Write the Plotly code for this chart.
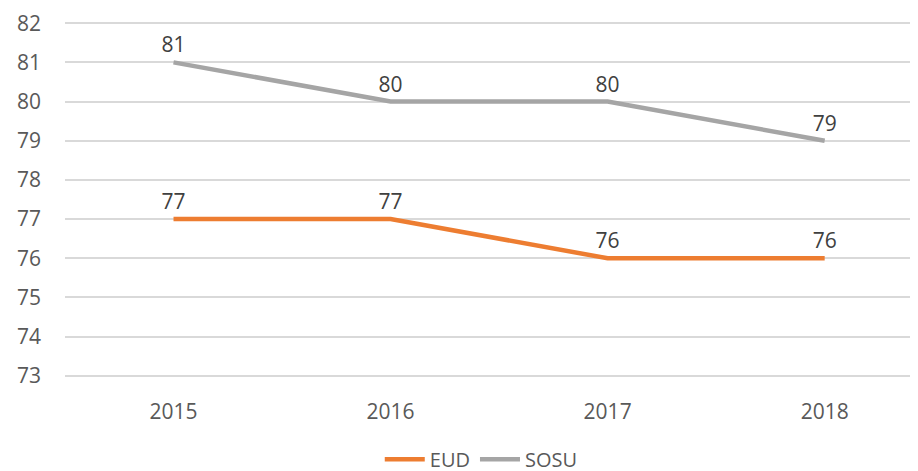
import plotly.graph_objects as go

years = ["2015", "2016", "2017", "2018"]
eud = [77, 77, 76, 76]
sosu = [81, 80, 80, 79]
y_ticks = [73, 74, 75, 76, 77, 78, 79, 80, 81, 82]

font_color = "#595959"
font_family = "Open Sans, Liberation Sans, sans-serif"

def series(name, values, color):
    return go.Scatter(
        x=years, y=values, name=name, mode="lines+markers+text",
        line=dict(color=color, width=4.5),
        marker=dict(size=6, color="rgba(0,0,0,0)"),
        text=[str(v) for v in values], textposition="top center",
        textfont=dict(size=21, color="#404040", family=font_family),
        cliponaxis=False,
    )

fig = go.Figure()
fig.add_trace(series("EUD", eud, "#ED7D31"))
fig.add_trace(series("SOSU", sosu, "#A5A5A5"))

# page body has an 8px margin, so the figure is sized/placed to compensate
fig.update_layout(
    width=910, height=463,
    margin=dict(l=57, r=0, t=14, b=94, autoexpand=False),
    paper_bgcolor="white", plot_bgcolor="white",
    font=dict(family=font_family, size=21, color=font_color),
    showlegend=True,
    legend=dict(orientation="h", x=0.488, xanchor="center", y=-0.232, yanchor="middle",
                font=dict(size=20, color=font_color), itemwidth=40,
                tracegroupgap=0, borderwidth=0),
    xaxis=dict(type="category", range=[-0.5, 3.43], showgrid=False, zeroline=False,
               showline=False, ticks="", ticklabelstandoff=20,
               tickfont=dict(size=21, color=font_color)),
    yaxis=dict(range=[72.97, 82.03], tickvals=y_ticks, showgrid=True, gridcolor="#D9D9D9",
               gridwidth=1.5, zeroline=False, showline=False, ticks="",
               ticklabelstandoff=23, tickfont=dict(size=21, color=font_color)),
)

fig.write_html("out.html")
